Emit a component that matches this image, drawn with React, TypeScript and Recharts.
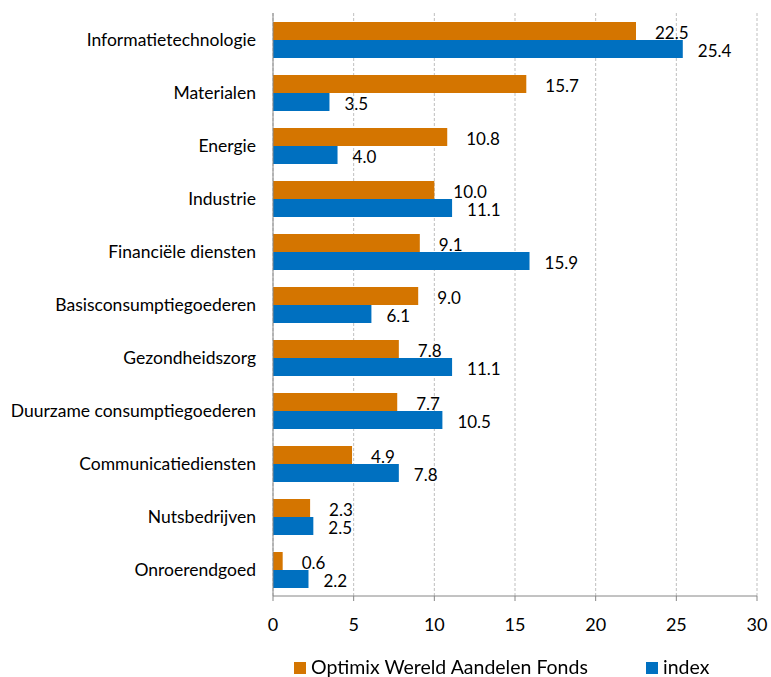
import { BarChart, Bar, XAxis, YAxis, CartesianGrid, Legend, LabelList } from 'recharts'

const categories = [
  'Informatietechnologie',
  'Materialen',
  'Energie',
  'Industrie',
  'Financiële diensten',
  'Basisconsumptiegoederen',
  'Gezondheidszorg',
  'Duurzame consumptiegoederen',
  'Communicatiediensten',
  'Nutsbedrijven',
  'Onroerendgoed',
]
const fondsValues = [22.5, 15.7, 10.8, 10.0, 9.1, 9.0, 7.8, 7.7, 4.9, 2.3, 0.6]
const indexValues = [25.4, 3.5, 4.0, 11.1, 15.9, 6.1, 11.1, 10.5, 7.8, 2.5, 2.2]
const xTicks = [0, 5, 10, 15, 20, 25, 30]

const FONDS = 'Optimix Wereld Aandelen Fonds'
const INDEX = 'index'
const ORANGE = '#D47500'
const BLUE = '#0070C0'
const FONT = 'Lato, "Open Sans", sans-serif'

const chartData = categories.map((name, i) => ({
  name,
  fonds: fondsValues[i],
  index: indexValues[i],
}))

function makeLabel(dx: number) {
  return (props: any) => {
    const { x, y, width, height, value } = props
    return (
      <text
        x={Number(x) + Number(width) + dx}
        y={Number(y) + Number(height) / 2 + 1}
        dominantBaseline="central"
        fontSize={17}
        fill="#000"
        fontFamily={FONT}
      >
        {Number(value).toFixed(1)}
      </text>
    )
  }
}

function LegendBox() {
  const item = (left: number, color: string, text: string) => (
    <div style={{ position: 'absolute', left, top: 0, height: 30 }}>
      <div style={{ position: 'absolute', left: 0, top: 12, width: 12, height: 12, background: color }} />
      <span
        style={{
          position: 'absolute',
          left: 17,
          top: 6,
          fontSize: 19.5,
          lineHeight: '22px',
          whiteSpace: 'nowrap',
          color: '#000',
          fontFamily: FONT,
        }}
      >
        {text}
      </span>
    </div>
  )
  return (
    <div style={{ position: 'relative', width: 771, height: 30 }}>
      {item(294, ORANGE, FONDS)}
      {item(646, BLUE, INDEX)}
    </div>
  )
}

export default function App() {
  return (
    <div style={{ position: 'fixed', left: 0, top: 0, background: '#fff', fontFamily: FONT }}>
      <BarChart
        width={771}
        height={677}
        data={chartData}
        layout="vertical"
        margin={{ top: 13, right: 14, bottom: 11, left: 0 }}
        barCategoryGap={9}
        barGap={0}
      >
        <CartesianGrid horizontal={false} stroke="#BFBFBF" strokeDasharray="3 2" />
        <XAxis
          type="number"
          domain={[0, 30]}
          ticks={xTicks}
          interval={0}
          height={40}
          stroke="#868686"
          tickSize={5}
          tickMargin={17}
          tick={{ fontSize: 18, fill: '#000' }}
        />
        <YAxis
          type="category"
          dataKey="name"
          width={273}
          stroke="#868686"
          tickLine={false}
          tickSize={0}
          tickMargin={17}
          interval={0}
          tick={{ fontSize: 17.5, fill: '#000' }}
        />
        <Legend
          verticalAlign="bottom"
          wrapperStyle={{ top: 650, left: 0, width: 771 }}
          content={() => <LegendBox />}
        />
        <Bar dataKey="fonds" name={FONDS} fill={ORANGE} isAnimationActive={false}>
          <LabelList dataKey="fonds" content={makeLabel(19)} />
        </Bar>
        <Bar dataKey="index" name={INDEX} fill={BLUE} isAnimationActive={false}>
          <LabelList dataKey="index" content={makeLabel(15)} />
        </Bar>
      </BarChart>
    </div>
  )
}
